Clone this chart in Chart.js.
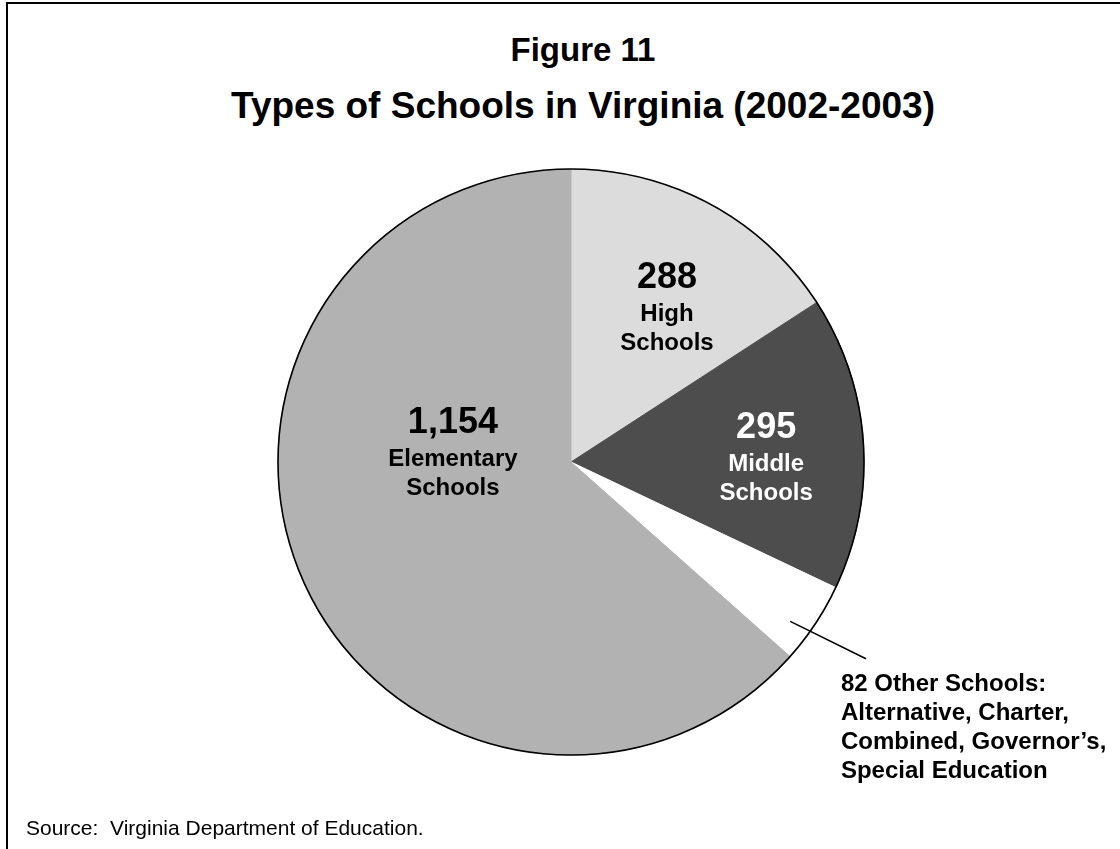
<!DOCTYPE html>
<html>
<head>
<meta charset="utf-8">
<title>Types of Schools in Virginia (2002-2003)</title>
<script src="https://cdn.jsdelivr.net/npm/chart.js@4/dist/chart.umd.min.js"></script>
<style>
  html, body { margin: 0; padding: 0; background: #fff; }
  body {
    width: 1120px; height: 849px; position: relative; overflow: hidden;
    font-family: "Liberation Sans", Arial, Helvetica, sans-serif; color: #000;
  }
  .frame {
    position: absolute; left: 6px; top: 2px; width: 1200px; height: 900px;
    border-top: 2px solid #000; border-left: 2px solid #000;
  }
  .heading {
    position: absolute; left: 0; width: 1166px; margin: 0;
    text-align: center; font-weight: bold; line-height: 1;
  }
  #figure { top: 33px; font-size: 33px; }
  #title { top: 87px; font-size: 37px; }
  #source { position: absolute; left: 26px; top: 817px; font-size: 21px; line-height: 1; white-space: pre; }
  #pie { position: absolute; left: 0; top: 0; }
</style>
</head>
<body>
<div class="frame"></div>
<div class="heading" id="figure">Figure 11</div>
<div class="heading" id="title">Types of Schools in Virginia (2002-2003)</div>
<canvas id="pie" width="1120" height="849"></canvas>
<div id="source">Source:  Virginia Department of Education.</div>

<script>
// school counts, clockwise from 12 o'clock
const schoolTypes = ["High Schools", "Middle Schools", "Other Schools", "Elementary Schools"];
const schoolCounts = [288, 295, 82, 1154];
const nameLines = [["High", "Schools"], ["Middle", "Schools"], [], ["Elementary", "Schools"]];
const otherTypes = ["Alternative, Charter,", "Combined, Governor\u2019s,", "Special Education"];

// look
const sliceColors = ["#dcdcdc", "#4d4d4d", "#ffffff", "#b2b2b2"];
const textColors = ["#000000", "#ffffff", "#000000", "#000000"];
// where each in-slice label sits: degrees clockwise from top, fraction of radius
const labelAngles = [28.9, 83.0, null, 283.8];
const labelRadii = [0.678, 0.671, null, 0.415];
const FONT = '"Liberation Sans", Arial, Helvetica, sans-serif';

function polar(arc, deg, frac) {
  const a = deg * Math.PI / 180;
  return {
    x: arc.x + frac * arc.outerRadius * Math.sin(a),
    y: arc.y - frac * arc.outerRadius * Math.cos(a),
  };
}

const pieAnnotations = {
  id: "pieAnnotations",
  afterDatasetsDraw(chart) {
    const ctx = chart.ctx;
    const arcs = chart.getDatasetMeta(0).data;
    const first = arcs[0];

    ctx.save();
    // outer rim only, no lines between slices
    ctx.beginPath();
    ctx.arc(first.x, first.y, first.outerRadius, 0, Math.PI * 2);
    ctx.lineWidth = 1.6;
    ctx.strokeStyle = "#000";
    ctx.stroke();

    ctx.textAlign = "center";
    ctx.textBaseline = "alphabetic";
    arcs.forEach((arc, i) => {
      if (labelAngles[i] === null) return;
      const p = polar(arc, labelAngles[i], labelRadii[i]);
      ctx.fillStyle = textColors[i];
      ctx.font = "bold 36px " + FONT;
      ctx.fillText(schoolCounts[i].toLocaleString("en-US"), p.x, p.y);
      ctx.font = "bold 24px " + FONT;
      nameLines[i].forEach((line, j) => {
        ctx.fillText(line, p.x, p.y + 33 + j * 29);
      });
    });

    // "other" slice gets a leader line and a label outside the pie
    const other = arcs[2];
    const from = polar(other, 126, 0.925);
    const to = polar(other, 123.7, 1.21);
    ctx.beginPath();
    ctx.moveTo(from.x, from.y);
    ctx.lineTo(to.x, to.y);
    ctx.lineWidth = 1.5;
    ctx.strokeStyle = "#000";
    ctx.stroke();

    ctx.textAlign = "left";
    ctx.fillStyle = textColors[2];
    ctx.font = "bold 24px " + FONT;
    const lines = [schoolCounts[2] + " Other Schools:"].concat(otherTypes);
    lines.forEach((line, j) => {
      ctx.fillText(line, to.x - 25, to.y + 32 + j * 29);
    });
    ctx.restore();
  },
};

new Chart(document.getElementById("pie"), {
  type: "pie",
  data: {
    labels: schoolTypes,
    datasets: [
      {
        data: schoolCounts,
        backgroundColor: sliceColors,
        borderColor: sliceColors,
        borderWidth: 1,
      },
    ],
  },
  options: {
    responsive: false,
    animation: false,
    events: [],
    radius: 293,
    layout: {
      padding: { left: 22, right: 0, top: 169, bottom: 94 },
    },
    plugins: {
      legend: { display: false },
      tooltip: { enabled: false },
      title: { display: false },
    },
  },
  plugins: [pieAnnotations],
});
</script>
</body>
</html>
